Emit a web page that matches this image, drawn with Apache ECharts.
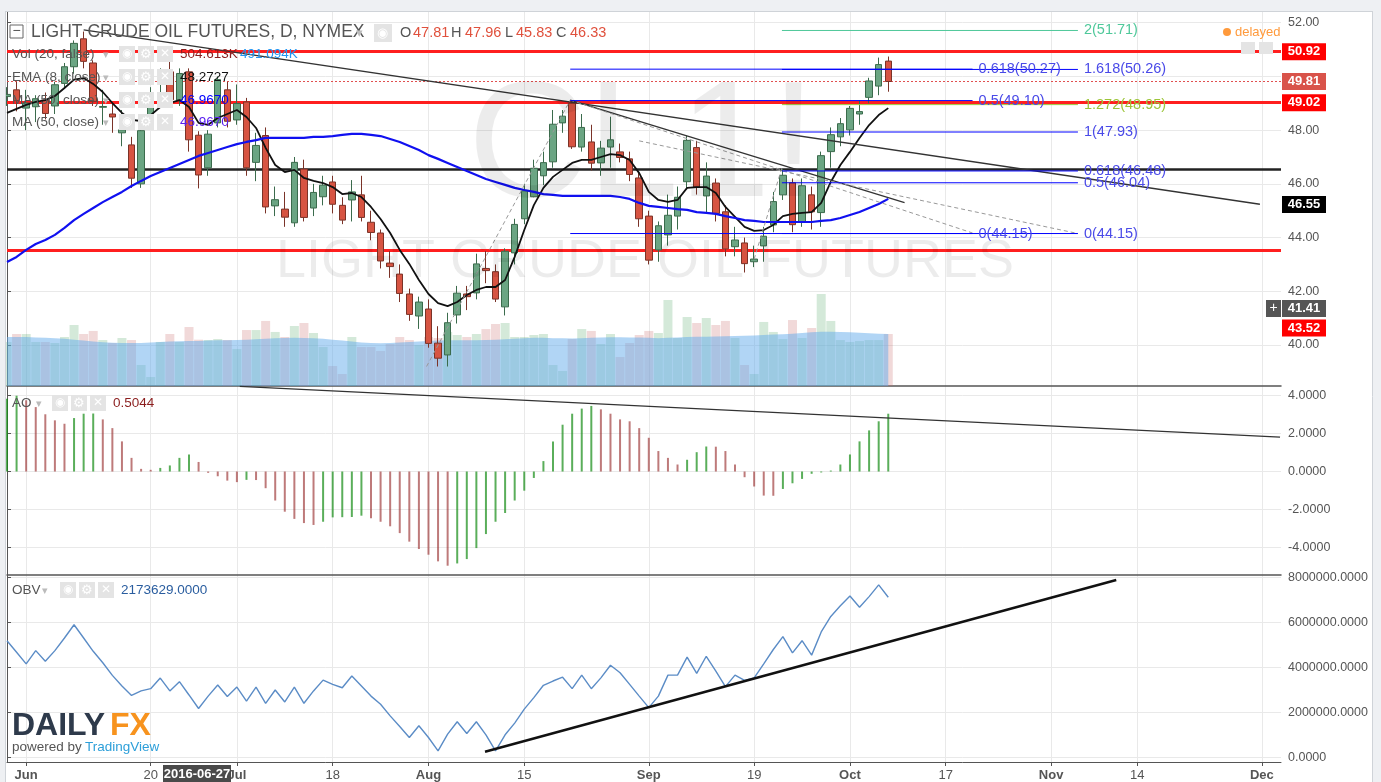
<!DOCTYPE html>
<html>
<head>
<meta charset="utf-8">
<script src="https://cdn.jsdelivr.net/npm/echarts@6/dist/echarts.min.js"></script>
<style>
  html, body { margin: 0; padding: 0; background: #fff; }
  #main { width: 1381px; height: 782px; }
</style>
</head>
<body>
<div id="main"></div>
<script>
// trading days shown on the time axis (last real bar is 2016-10-07, the rest is empty future space)
const tradingDays = {
  '2016-05': [27, 31],
  '2016-06': [1, 2, 3, 6, 7, 8, 9, 10, 13, 14, 15, 16, 17, 20, 21, 22, 23, 24, 27, 28, 29, 30],
  '2016-07': [1, 5, 6, 7, 8, 11, 12, 13, 14, 15, 18, 19, 20, 21, 22, 25, 26, 27, 28, 29],
  '2016-08': [1, 2, 3, 4, 5, 8, 9, 10, 11, 12, 15, 16, 17, 18, 19, 22, 23, 24, 25, 26, 29, 30, 31],
  '2016-09': [1, 2, 6, 7, 8, 9, 12, 13, 14, 15, 16, 19, 20, 21, 22, 23, 26, 27, 28, 29, 30],
  '2016-10': [3, 4, 5, 6, 7, 10, 11, 12, 13, 14, 17, 18, 19, 20, 21, 24, 25, 26, 27, 28, 31],
  '2016-11': [1, 2, 3, 4, 7, 8, 9, 10, 11, 14, 15, 16, 17, 18, 21, 22, 23, 24, 25, 28, 29, 30],
  '2016-12': [1, 2, 5]
};
const dates = [];
Object.keys(tradingDays).forEach(m => tradingDays[m].forEach(d => dates.push(m + '-' + String(d).padStart(2, '0'))));

const tickLabels = {
  '2016-06-01': 'Jun', '2016-06-20': '20', '2016-07-01': 'Jul', '2016-07-18': '18',
  '2016-08-01': 'Aug', '2016-08-15': '15', '2016-09-01': 'Sep', '2016-09-19': '19',
  '2016-10-03': 'Oct', '2016-10-17': '17', '2016-11-01': 'Nov', '2016-11-14': '14',
  '2016-12-01': 'Dec'
};

// daily bars [open, high, low, close] from 2016-05-27
const candles = [
  [49.25, 49.6, 48.9, 49.33], [49.5, 49.8, 48.7, 49.10],
  [48.82, 49.5, 48.0, 49.01], [48.87, 49.3, 48.3, 49.17], [49.12, 49.4, 48.4, 48.62], [48.9, 49.8, 48.6, 49.69],
  [49.74, 50.5, 49.6, 50.36], [50.36, 51.34, 50.1, 51.23], [51.4, 51.67, 50.3, 50.56], [50.5, 50.6, 48.9, 49.07],
  [48.85, 49.5, 48.2, 48.88], [48.6, 49.0, 47.9, 48.49], [47.9, 48.75, 47.4, 48.01], [47.45, 47.75, 45.85, 46.21],
  [46.0, 48.1, 45.85, 47.98], [48.3, 49.6, 48.2, 49.31], [49.78, 50.3, 49.1, 49.82], [50.17, 50.54, 49.0, 49.13],
  [49.12, 50.3, 48.9, 50.11], [50.17, 50.3, 47.2, 47.64], [47.81, 47.96, 45.83, 46.33], [46.6, 48.0, 46.3, 47.85],
  [48.27, 50.0, 48.1, 49.88], [49.5, 49.8, 48.1, 48.33], [48.38, 49.7, 48.2, 48.99], [49.05, 49.2, 46.3, 46.60],
  [46.8, 47.9, 46.1, 47.43], [47.8, 48.1, 44.9, 45.14], [45.18, 45.9, 44.8, 45.41], [45.06, 45.7, 44.4, 44.76],
  [44.55, 47.0, 44.4, 46.80], [46.55, 46.9, 44.6, 44.75], [45.1, 46.0, 44.8, 45.68], [45.52, 46.3, 45.2, 45.95],
  [46.07, 46.3, 44.9, 45.24], [45.2, 45.5, 44.5, 44.65], [45.4, 46.14, 44.6, 45.7], [45.59, 46.3, 44.6, 44.75],
  [44.57, 45.0, 43.9, 44.19], [44.17, 44.3, 42.85, 43.13], [43.05, 43.5, 42.5, 42.92], [42.64, 43.0, 41.6, 41.92],
  [41.9, 42.1, 40.9, 41.14], [41.08, 41.8, 40.6, 41.60], [41.34, 41.7, 39.9, 40.06], [40.07, 40.7, 39.2, 39.51],
  [39.63, 41.2, 39.2, 40.83], [41.12, 42.2, 40.8, 41.93], [41.9, 42.2, 41.3, 41.80], [41.94, 43.4, 41.7, 43.02],
  [42.85, 43.5, 42.3, 42.77], [42.73, 43.0, 41.6, 41.71], [41.42, 43.6, 41.1, 43.49], [43.43, 44.7, 43.0, 44.49],
  [44.7, 46.0, 44.5, 45.74], [45.52, 46.9, 45.5, 46.58], [46.3, 47.2, 45.95, 46.79], [46.82, 48.75, 46.6, 48.22],
  [48.27, 48.75, 47.9, 48.52], [49.0, 49.1, 47.3, 47.38], [47.37, 48.6, 47.2, 48.10], [47.56, 48.2, 46.5, 46.77],
  [46.78, 47.6, 46.3, 47.33], [47.37, 48.5, 46.6, 47.64], [47.19, 47.5, 46.8, 46.98], [46.93, 47.2, 46.1, 46.35],
  [46.22, 46.4, 44.4, 44.70], [44.8, 45.0, 43.0, 43.16], [43.54, 44.6, 43.1, 44.44], [44.1, 45.6, 43.7, 44.83],
  [44.8, 45.9, 44.3, 45.50], [46.08, 47.8, 45.8, 47.62], [47.35, 47.6, 45.6, 45.88], [45.55, 46.8, 44.9, 46.29],
  [46.03, 46.2, 44.6, 44.90], [44.96, 45.2, 43.3, 43.58], [43.66, 44.4, 43.3, 43.91], [43.8, 44.0, 42.7, 43.03],
  [43.1, 43.7, 42.9, 43.2], [43.69, 44.4, 43.1, 44.05], [44.47, 45.7, 44.2, 45.34], [45.59, 46.55, 45.4, 46.32],
  [46.04, 46.2, 44.2, 44.48], [44.59, 46.2, 44.4, 45.93], [45.59, 45.9, 44.3, 44.96], [44.93, 47.2, 44.4, 47.05],
  [47.2, 48.1, 46.6, 47.83], [47.75, 48.45, 47.4, 48.24], [48.01, 48.9, 47.8, 48.81], [48.6, 49.1, 48.2, 48.69],
  [49.22, 49.95, 49.0, 49.83], [49.64, 50.7, 49.3, 50.44], [50.57, 50.74, 49.43, 49.81]
];

// volume, thousands of contracts
const volumes = [
  480, 567, 567, 480, 480, 469, 534, 665, 567, 600, 501, 469, 523, 501, 229, 98, 480, 567, 480, 643,
  505, 501, 512, 501, 403, 610, 610, 709, 589, 534, 654, 687, 578, 425, 218, 131, 534, 425, 425, 382,
  458, 534, 501, 447, 534, 523, 589, 556, 534, 567, 621, 676, 687, 534, 534, 556, 567, 229, 164, 512,
  621, 600, 458, 567, 316, 469, 556, 600, 578, 937, 523, 752, 687, 741, 665, 709, 523, 229, 131, 698,
  589, 512, 719, 523, 632, 1003, 709, 501, 480, 490, 501, 501, 567
];
const volumeMA = [
  534, 534, 534, 530, 525, 520, 515, 505, 495, 485, 478, 472, 470, 470, 470, 475, 480, 485, 488, 490,
  491, 495, 498, 500, 502, 505, 510, 515, 520, 523, 525, 523, 520, 515, 505, 495, 485, 475, 468, 465,
  470, 475, 480, 485, 490, 495, 500, 500, 500, 500, 502, 505, 510, 515, 520, 525, 525, 520, 520, 518,
  520, 525, 530, 532, 532, 530, 528, 525, 520, 525, 530, 535, 537, 538, 540, 543, 545, 548, 550, 555,
  560, 565, 570, 578, 585, 590, 590, 588, 585, 580, 575, 570, 567
];
const ema8 = [
  48.64, 48.79, 48.94, 49.05, 49.12, 49.27, 49.57, 49.88, 49.94, 49.72, 49.42, 49.01, 48.64, 48.38, 48.34, 48.56,
  48.86, 49.01, 49.12, 48.86, 48.27, 48.2, 48.45, 48.6, 48.75, 48.49, 48.08, 47.34, 46.70, 46.44, 46.52, 46.22,
  46.11, 46.03, 45.88, 45.62, 45.66, 45.51, 45.14, 44.69, 44.17, 43.54, 43.02, 42.42, 41.9, 41.56, 41.45, 41.6,
  41.86, 42.05, 42.16, 42.16, 42.42, 43.28, 44.28, 45.21, 45.85, 46.26, 46.52, 46.78, 46.89, 46.89, 47.0, 47.11,
  47.07, 46.89, 46.4, 45.7, 45.4, 45.33, 45.4, 45.85, 45.88, 45.88, 45.66, 45.14, 44.77, 44.4, 44.25, 44.28,
  44.47, 44.8, 44.88, 44.92, 44.95, 45.29, 46.07, 46.7, 47.19, 47.71, 48.19, 48.56, 48.82
];
const ma50 = [
  43.09, 43.28, 43.54, 43.76, 43.91, 44.1, 44.36, 44.65, 44.88, 45.1, 45.32, 45.51, 45.7, 45.92, 46.11, 46.29,
  46.44, 46.59, 46.74, 46.89, 47.04, 47.15, 47.26, 47.37, 47.48, 47.56, 47.63, 47.71, 47.71, 47.71, 47.71, 47.71,
  47.75, 47.75, 47.78, 47.82, 47.86, 47.86, 47.82, 47.78, 47.67, 47.56, 47.41, 47.26, 47.07, 46.93, 46.78, 46.63,
  46.48, 46.33, 46.18, 46.07, 45.96, 45.85, 45.77, 45.7, 45.62, 45.59, 45.55, 45.55, 45.55, 45.55, 45.55, 45.55,
  45.51, 45.44, 45.29, 45.18, 45.14, 45.1, 45.06, 45.03, 44.95, 44.92, 44.88, 44.8, 44.73, 44.65, 44.62, 44.58,
  44.58, 44.58, 44.58, 44.58, 44.58, 44.62, 44.65, 44.73, 44.84, 44.95, 45.1, 45.25, 45.44
];
const ao = [
  3.84, 4.0, 3.76, 3.4, 3.02, 2.7, 2.52, 2.82, 3.05, 3.06, 2.75, 2.29, 1.59, 0.72, 0.14, 0.09,
  0.19, 0.32, 0.72, 0.9, 0.5044, -0.07, -0.25, -0.48, -0.56, -0.44, -0.45, -0.88, -1.53, -2.12, -2.5, -2.72,
  -2.82, -2.65, -2.42, -2.41, -2.4, -2.33, -2.47, -2.65, -2.89, -3.25, -3.7, -4.09, -4.39, -4.74, -4.97, -4.85,
  -4.62, -4.04, -3.3, -2.65, -2.19, -1.53, -1.01, -0.34, 0.55, 1.59, 2.47, 3.05, 3.32, 3.46, 3.28, 3.05,
  2.75, 2.65, 2.29, 1.78, 1.08, 0.72, 0.37, 0.62, 1.02, 1.32, 1.31, 1.08, 0.37, -0.3, -0.79, -1.27,
  -1.28, -0.92, -0.62, -0.39, -0.12, -0.05, 0.05, 0.37, 0.9, 1.59, 2.17, 2.65, 3.05
];
// on-balance volume, millions
const obvM = [
  5.18, 4.67, 4.15, 4.74, 4.27, 4.74, 5.30, 5.89, 5.30, 4.71, 4.20, 3.64, 3.17, 2.75, 2.95, 3.05,
  3.52, 2.95, 3.36, 2.77, 2.17, 2.72, 3.21, 2.70, 3.12, 2.50, 3.12, 2.40, 2.99, 2.46, 3.12, 2.40,
  2.95, 3.43, 3.24, 3.09, 3.61, 3.17, 2.72, 2.36, 1.84, 1.37, 0.88, 1.40, 0.88, 0.29, 1.03, 1.58,
  1.06, 1.58, 1.00, 0.29, 1.00, 1.52, 2.14, 2.65, 3.20, 3.39, 3.56, 3.05, 3.65, 3.05, 3.53, 4.09,
  3.76, 3.24, 2.72, 2.21, 2.72, 3.65, 3.65, 4.45, 3.73, 4.49, 3.83, 3.14, 3.65, 3.42, 3.53, 4.15,
  4.79, 5.36, 4.64, 5.18, 4.54, 5.57, 6.26, 6.73, 7.17, 6.67, 7.14, 7.66, 7.11
];

// drawn levels and tools (x in bar index from 2016-05-27, y in price)
const redLevels = [50.92, 49.02, 43.52];
const blackLevel = 46.55;
const lastClose = 49.81;
const trendLines = [[8.0, 51.73, 130.8, 45.24], [58.8, 49.12, 93.7, 45.30]];
const dashedLines = [[43.8, 39.2, 58.8, 49.12], [58.8, 49.12, 100.8, 44.17], [66.0, 47.6, 111.8, 44.15], [78.0, 43.2, 80.9, 46.6]];
const fibA = { from: 58.8, to: 100.8, levels: [['0.618', 50.27], ['0.5', 49.10], ['0', 44.15]] };
const fibB = { from: 80.9, to: 111.8, levels: [['2', 51.71], ['1.618', 50.26], ['1.272', 48.95], ['1', 47.93], ['0.618', 46.48], ['0.5', 46.04], ['0', 44.15]] };
const aoTrend = [24.3, 4.49, 132.9, 1.81];
const obvTrend = [49.9, 0.25, 115.8, 7.88];

// price tags on the right scale: [text, shown at price, background]
const priceTags = [['50.92', 50.92, '#ff0000'], ['49.81', 49.81, '#d9534a'], ['49.02', 49.02, '#ff0000'],
  ['46.55', 45.23, '#000000'], ['41.41', 41.36, '#555555'], ['43.52', 40.63, '#ff0000']];

const FONT = 'Liberation Sans, Arial, sans-serif';
const L = 7, R = 100;
const UP = '#6ba583', DOWN = '#d75442';
const AXC = '#555';

const myChart = echarts.init(document.getElementById('main'));

const isTick = (i, v) => tickLabels[v] !== undefined;
const catAxis = (grid, extra) => Object.assign({
  type: 'category', gridIndex: grid, data: dates, boundaryGap: false,
  axisLine: { show: false }, axisTick: { show: false }, axisLabel: { show: false },
  splitLine: { show: true, interval: isTick, lineStyle: { color: '#e9e9e9' } }
}, extra || {});
const valAxis = grid => ({ type: 'value', gridIndex: grid, min: 0, max: dates.length - 1, show: false });
const rightAxis = (grid, min, max, ticks, fmt, labelTicks) => ({
  type: 'value', gridIndex: grid, position: 'right', min: min, max: max,
  axisLine: { show: true, lineStyle: { color: AXC } },
  axisTick: { show: true, length: 4, customValues: ticks, lineStyle: { color: AXC } },
  axisLabel: { customValues: labelTicks || ticks, formatter: fmt, color: AXC, fontSize: 12.5, fontFamily: FONT, margin: 7 },
  splitLine: { show: true, lineStyle: { color: '#e9e9e9' } }
});

const candleData = candles.map(c => [c[0], c[3], c[2], c[1]]);
const volData = volumes.map((v, i) => ({
  value: v,
  itemStyle: { color: candles[i][3] >= candles[i][0] ? 'rgba(90,170,110,0.26)' : 'rgba(200,110,110,0.26)' }
}));
const aoData = ao.map((v, i) => ({
  value: v,
  itemStyle: { color: (i === 0 ? v <= ao[1] : v >= ao[i - 1]) ? 'rgba(20,140,20,0.7)' : 'rgba(150,40,40,0.62)' }
}));

function seg(xAxisIndex, yAxisIndex, s, style, label) {
  return {
    type: 'line', xAxisIndex, yAxisIndex, silent: true, symbol: 'none', animation: false,
    data: [[s[0], s[1]], [s[2], s[3]]], lineStyle: style, z: 6,
    endLabel: label ? Object.assign({ show: true, fontFamily: FONT, fontSize: 14.5, distance: 6 }, label) : { show: false }
  };
}
const fibColor = lvl => lvl === '2' ? '#4fc89a' : lvl === '1.272' ? '#9cc53a' : '#0000ff';
const fibText = lvl => lvl === '2' ? '#4fc89a' : lvl === '1.272' ? '#9cc53a' : '#4a4ae8';
const annotation = [];
trendLines.forEach(t => annotation.push(seg(1, 0, t, { color: '#333', width: 1.3 })));
dashedLines.forEach(t => annotation.push(seg(1, 0, t, { color: '#999', width: 1, type: [4, 3] })));
[fibA, fibB].forEach(f => f.levels.forEach(l => annotation.push(seg(1, 0, [f.from, l[1], f.to, l[1]],
  { color: fibColor(l[0]), width: 1 },
  { formatter: l[0] + '(' + l[1].toFixed(2) + ')', color: fibText(l[0]) }))));
annotation.push(seg(4, 2, aoTrend, { color: '#333', width: 1.3 }));
annotation.push(seg(6, 3, [obvTrend[0], obvTrend[1] * 1e6, obvTrend[2], obvTrend[3] * 1e6], { color: '#111', width: 2.5 }));

const option = {
  animation: false,
  backgroundColor: '#fff',
  grid: [
    { left: L, right: R, top: 12, height: 374 },
    { left: L, right: R, top: 236, height: 150 },
    { left: L, right: R, top: 386, height: 189 },
    { left: L, right: R, top: 575, height: 188 }
  ],
  xAxis: [
    catAxis(0, { axisLine: { show: true, onZero: false, lineStyle: { color: AXC, width: 1.5 } } }),
    valAxis(0),
    catAxis(1, { show: false }),
    catAxis(2, { axisLine: { show: true, onZero: false, lineStyle: { color: AXC, width: 1.5 } } }),
    valAxis(2),
    catAxis(3, {
      axisLine: { show: true, onZero: false, lineStyle: { color: AXC } },
      axisTick: { show: true, interval: isTick, length: 4, lineStyle: { color: AXC } },
      axisLabel: {
        show: true, interval: isTick, color: AXC, fontSize: 13, fontFamily: FONT, margin: 7,
        formatter: v => { const t = tickLabels[v] || ''; return isNaN(+t) ? '{b|' + t + '}' : t; },
        rich: { b: { fontWeight: 'bold', color: AXC, fontSize: 13, fontFamily: FONT } }
      }
    }),
    valAxis(3)
  ],
  yAxis: [
    rightAxis(0, 38.474, 52.398, [40, 42, 44, 46, 48, 50, 52], v => v.toFixed(2), [40, 42, 44, 46, 48, 52]),
    { type: 'value', gridIndex: 1, min: 0, max: 1635, show: false },
    rightAxis(2, -5.46, 4.512, [-4, -2, 0, 2, 4], v => v.toFixed(4)),
    rightAxis(3, -208000, 8100000, [0, 2e6, 4e6, 6e6, 8e6], v => v.toFixed(4))
  ],
  series: [
    { type: 'bar', xAxisIndex: 2, yAxisIndex: 1, data: volData, barWidth: 9, z: 2 },
    {
      type: 'line', xAxisIndex: 2, yAxisIndex: 1, data: volumeMA, symbol: 'none', z: 3,
      lineStyle: { width: 0 }, areaStyle: { color: 'rgba(100,172,236,0.5)', opacity: 1 }
    },
    {
      type: 'candlestick', xAxisIndex: 0, yAxisIndex: 0, data: candleData, barWidth: 7, z: 5,
      itemStyle: { color: UP, color0: DOWN, borderColor: '#3b6b4c', borderColor0: '#7a3328', borderWidth: 1 },
      markLine: {
        silent: true, symbol: 'none', label: { show: false }, animation: false,
        data: redLevels.map(v => ({ yAxis: v, lineStyle: { color: '#ff1f1f', width: 3, type: 'solid' } }))
          .concat([{ yAxis: blackLevel, lineStyle: { color: '#222', width: 2.5, type: 'solid' } },
                   { yAxis: lastClose, lineStyle: { color: '#e05050', width: 1, type: [2, 2] } }])
      }
    },
    { type: 'line', xAxisIndex: 0, yAxisIndex: 0, data: ema8, symbol: 'none', z: 6, lineStyle: { color: '#111', width: 1.8 } },
    { type: 'line', xAxisIndex: 0, yAxisIndex: 0, data: ma50, symbol: 'none', z: 6, lineStyle: { color: '#1010f0', width: 2.2 } },
    { type: 'bar', xAxisIndex: 3, yAxisIndex: 2, data: aoData, barWidth: 2 },
    { type: 'line', xAxisIndex: 5, yAxisIndex: 3, data: obvM.map(v => v * 1e6), symbol: 'none', lineStyle: { color: '#5b8cc6', width: 1.4 } }
  ].concat(annotation)
};
myChart.setOption(option);

// texts and decorations
const txt = (x, y, text, fill, size, extra) => ({
  type: 'text', x, y, silent: true, z: 50,
  style: Object.assign({ text, fill, fontSize: size, fontFamily: FONT, verticalAlign: 'middle' }, extra || {})
});
const box = (x, y, w, h, fill, extra) => ({ type: 'rect', silent: true, z: 49, shape: { x, y, width: w, height: h }, style: Object.assign({ fill }, extra || {}) });
const icons = (x, y) => [box(x, y - 8, 16, 16, '#e4e4e4'), box(x + 19, y - 8, 16, 16, '#e4e4e4'), box(x + 38, y - 8, 16, 16, '#e4e4e4'),
  txt(x + 3, y, '◉', '#fff', 12), txt(x + 21, y, '⚙', '#fff', 13), txt(x + 41, y, '✕', '#fff', 12)];

const g = [
  box(0, 0, 1381, 11, '#eef0f3'), box(0, 0, 5, 782, '#eef0f3'), box(1373, 0, 8, 782, '#eef0f3'),
  { type: 'line', silent: true, z: 49, shape: { x1: 5.5, y1: 11, x2: 5.5, y2: 782 }, style: { stroke: '#cfd3d8' } },
  { type: 'line', silent: true, z: 49, shape: { x1: 1372.5, y1: 11, x2: 1372.5, y2: 782 }, style: { stroke: '#cfd3d8' } },
  { type: 'line', silent: true, z: 49, shape: { x1: 5, y1: 11.5, x2: 1373, y2: 11.5 }, style: { stroke: '#cfd3d8' } },
  // watermark
  txt(642, 150, 'CL1!', 'rgba(0,0,0,0.075)', 165, { align: 'center' }),
  txt(645, 262, 'LIGHT CRUDE OIL FUTURES', 'rgba(0,0,0,0.075)', 54, { align: 'center' }),
  // legend rows
  box(10, 25, 13, 13, '#fff', { stroke: '#666', lineWidth: 1 }), txt(12.5, 31.5, '−', '#555', 14),
  txt(31, 32, 'LIGHT CRUDE OIL FUTURES, D, NYMEX', '#555', 17.5),
  txt(356, 33, '▾', '#bbb', 13), box(374, 24, 18, 18, '#e4e4e4'), txt(377, 33, '◉', '#fff', 13),
  txt(400, 33, 'O', '#555', 14.5), txt(413, 33, '47.81', '#e0503c', 14.5),
  txt(451, 33, 'H', '#555', 14.5), txt(465, 33, '47.96', '#e0503c', 14.5),
  txt(505, 33, 'L', '#555', 14.5), txt(516, 33, '45.83', '#e0503c', 14.5),
  txt(556, 33, 'C', '#555', 14.5), txt(570, 33, '46.33', '#e0503c', 14.5),
  txt(12, 54, 'Vol (20, false)', '#555', 13.5), txt(103, 55, '▾', '#bbb', 11)
].concat(icons(119, 54), [
  txt(180, 54, '504.613K', '#8b1e1e', 13.5), txt(240, 54, '491.094K', '#2196f3', 13.5),
  txt(12, 77, 'EMA (8, close)', '#555', 13.5), txt(103, 78, '▾', '#bbb', 11)
], icons(119, 77), [
  txt(180, 77, '48.2727', '#111', 13.5),
  txt(12, 100, 'MA (50, close)', '#555', 13.5), txt(103, 101, '▾', '#bbb', 11)
], icons(119, 100), [
  txt(180, 100, '46.9670', '#0000ff', 13.5),
  txt(12, 122, 'MA (50, close)', '#555', 13.5), txt(103, 123, '▾', '#bbb', 11)
], icons(119, 122), [
  txt(180, 122, '46.9670', '#5a20f0', 13.5),
  txt(12, 403, 'AO', '#555', 13.5), txt(36, 404, '▾', '#bbb', 11)
], icons(52, 403), [
  txt(113, 403, '0.5044', '#8b1e1e', 13.5),
  txt(12, 590, 'OBV', '#555', 13.5), txt(42, 591, '▾', '#bbb', 11)
], icons(60, 590), [
  txt(121, 590, '2173629.0000', '#2a5d9f', 13.5),
  // delayed marker
  { type: 'circle', silent: true, z: 50, shape: { cx: 1227, cy: 32, r: 4 }, style: { fill: '#ff9a3c' } },
  txt(1235, 32, 'delayed', '#ff9a3c', 13),
  box(1241, 42, 14, 12, '#e4e4e4'), box(1259, 42, 14, 12, '#e4e4e4'),
  // date marker on the time axis
  box(163, 765, 68, 17, '#4a4a4a'), txt(197, 774, '2016-06-27', '#fff', 13, { align: 'center', fontWeight: 'bold' }),
  // DailyFX logo
  txt(12, 726, 'DAILY', '#2e3a4b', 32, { fontWeight: 'bold' }), txt(110, 726, 'FX', '#f7931e', 32, { fontWeight: 'bold' }),
  txt(12, 747, 'powered by', '#555', 13.5), txt(85, 747, 'TradingView', '#2d9fd9', 13.5)
]);

// coloured price tags sitting on the right scale
priceTags.forEach(t => {
  const y = myChart.convertToPixel({ yAxisIndex: 0 }, t[1]);
  g.push(box(1282, y - 8.5, 44, 17, t[2]));
  g.push(txt(1304, y, t[0], '#fff', 13, { align: 'center', fontWeight: 'bold' }));
});
const yPlus = myChart.convertToPixel({ yAxisIndex: 0 }, 41.36);
g.push(box(1266, yPlus - 8.5, 15, 17, '#555'), txt(1273.5, yPlus, '+', '#fff', 14, { align: 'center' }));

myChart.setOption({ graphic: g });
</script>
</body>
</html>
